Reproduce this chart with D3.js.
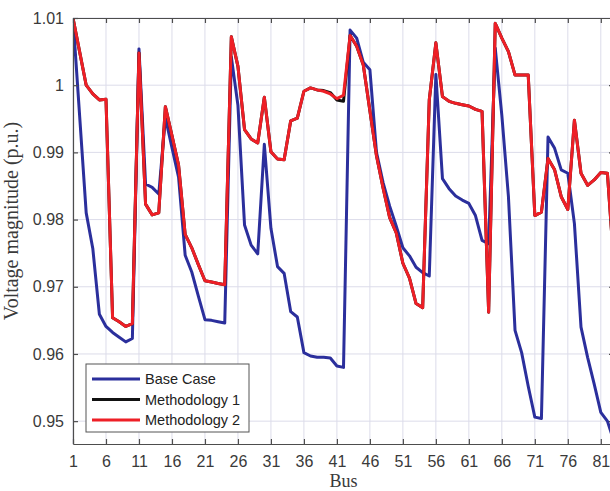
<!DOCTYPE html>
<html>
<head>
<meta charset="utf-8">
<script src="https://cdn.jsdelivr.net/npm/d3@7"></script>
<style>
  body { margin: 0; background: #fff; }
  svg { display: block; }
</style>
</head>
<body>
<svg id="chart-area"></svg>
<script>
/*
*    bus voltage profile - base case vs methodologies
*/

// bus numbers 1..83 (last one sits just past the cropped edge)
var buses = d3.range(1, 84);

var baseCase = [
  1.0100, 0.9955, 0.9810, 0.9757, 0.9659, 0.9641, 0.9632, 0.9625, 0.9618, 0.9623,
  1.0054, 0.9853, 0.9848, 0.9838, 0.9952, 0.9907, 0.9863, 0.9747, 0.9722, 0.9686,
  0.9651, 0.9650, 0.9648, 0.9646, 1.0042, 0.9970, 0.9792, 0.9762, 0.9749, 0.9912,
  0.9787, 0.9730, 0.9720, 0.9663, 0.9655, 0.9602, 0.9597, 0.9595, 0.9595, 0.9594,
  0.9582, 0.9580, 1.0082, 1.0070, 1.0034, 1.0023, 0.9900, 0.9855, 0.9820, 0.9790,
  0.9758, 0.9746, 0.9729, 0.9721, 0.9716, 1.0016, 0.9861, 0.9846, 0.9835, 0.9829,
  0.9824, 0.9806, 0.9769, 0.9764, 1.0055, 0.9955, 0.9834, 0.9635, 0.9602, 0.9552,
  0.9506, 0.9504, 0.9923, 0.9906, 0.9874, 0.9869, 0.9794, 0.9640, 0.9595, 0.9555,
  0.9513, 0.9500, 0.9470
];

var method2 = [
  1.0100, 1.0050, 1.0000, 0.9987, 0.9978, 0.9979, 0.9654, 0.9648, 0.9641, 0.9645,
  1.0048, 0.9823, 0.9807, 0.9810, 0.9968, 0.9925, 0.9881, 0.9778, 0.9758, 0.9733,
  0.9709, 0.9707, 0.9705, 0.9703, 1.0072, 1.0028, 0.9934, 0.9920, 0.9914, 0.9982,
  0.9901, 0.9890, 0.9889, 0.9947, 0.9951, 0.9991, 0.9996, 0.9993, 0.9991, 0.9987,
  0.9980, 0.9985, 1.0074, 1.0058, 1.0030, 0.9962, 0.9895, 0.9847, 0.9803, 0.9780,
  0.9735, 0.9713, 0.9675, 0.9669, 0.9978, 1.0063, 0.9983, 0.9976, 0.9973, 0.9971,
  0.9969, 0.9964, 0.9961, 0.9662, 1.0092, 1.0070, 1.0050, 1.0015, 1.0015, 1.0015,
  0.9806, 0.9811, 0.9891, 0.9874, 0.9834, 0.9815, 0.9948, 0.9869, 0.9851, 0.9859,
  0.9870, 0.9869, 0.9730
];

// methodology 1 follows methodology 2 except around buses 39-42
var method1 = method2.slice();
method1[38] = 0.9992;
method1[39] = 0.9989;
method1[40] = 0.9978;
method1[41] = 0.9976;

var seriesNames = ["Base Case", "Methodology 1", "Methodology 2"];
var seriesColors = ["#2b2f9c", "#111111", "#ee1f26"];

var xTicks = d3.range(1, 82, 5);
var yTicks = [1.01, 1.00, 0.99, 0.98, 0.97, 0.96, 0.95];
var yTickLabels = ["1.01", "1", "0.99", "0.98", "0.97", "0.96", "0.95"];

var chart = {
  margin: { left: 73, top: 18 },
  width: 541,
  height: 426
};

var svg = d3.select("#chart-area")
    .attr("width", 610)
    .attr("height", 491);

var g = svg.append("g")
    .attr("transform", "translate(" + chart.margin.left + "," + chart.margin.top + ")");

var x = d3.scaleLinear().domain([1, 83]).range([0, chart.width]);
var y = d3.scaleLinear().domain([0.9466, 1.01]).range([chart.height, 0]);

// grid
var grid = g.append("g").attr("class", "grid");
grid.selectAll("line.gx").data(xTicks).enter().append("line")
    .attr("class", "gx")
    .attr("x1", function(d){ return x(d); })
    .attr("x2", function(d){ return x(d); })
    .attr("y1", 0).attr("y2", chart.height)
    .attr("stroke", "#dcdcea").attr("stroke-width", 1);
grid.selectAll("line.gy").data(yTicks).enter().append("line")
    .attr("class", "gy")
    .attr("x1", 0).attr("x2", chart.width)
    .attr("y1", function(d){ return y(d); })
    .attr("y2", function(d){ return y(d); })
    .attr("stroke", "#dcdcea").attr("stroke-width", 1);

// lines
svg.append("defs").append("clipPath").attr("id", "plot-clip")
  .append("rect").attr("width", chart.width).attr("height", chart.height);

var line = d3.line()
    .x(function(d, i){ return x(buses[i]); })
    .y(function(d){ return y(d); });

var allSeries = [baseCase, method1, method2];
g.append("g").attr("clip-path", "url(#plot-clip)")
  .selectAll("path").data(allSeries).enter().append("path")
    .attr("d", line)
    .attr("fill", "none")
    .attr("stroke", function(d, i){ return seriesColors[i]; })
    .attr("stroke-width", 3)
    .attr("stroke-linejoin", "round");

// axes
var axisColor = "#4d4d4d";
var xAxisCall = d3.axisBottom(x).tickValues(xTicks).tickSizeInner(-5).tickSizeOuter(0).tickPadding(12);
g.append("g")
    .attr("transform", "translate(0," + chart.height + ")")
    .call(xAxisCall);

g.append("g")
    .call(d3.axisTop(x).tickValues(xTicks).tickSizeInner(-5).tickSizeOuter(0).tickFormat(""));

var yAxisCall = d3.axisLeft(y).tickValues(yTicks).tickSizeInner(-5).tickSizeOuter(0).tickPadding(9)
    .tickFormat(function(d, i){ return yTickLabels[i]; });
g.append("g").call(yAxisCall);

g.append("g")
    .attr("transform", "translate(" + chart.width + ",0)")
    .call(d3.axisRight(y).tickValues(yTicks).tickSizeInner(-5).tickSizeOuter(0).tickFormat(""));

g.selectAll(".domain, .tick line").attr("stroke", axisColor).attr("stroke-width", 1.2);
g.selectAll(".tick text")
    .attr("fill", "#3a3a3a")
    .attr("font-family", "'Liberation Sans', Arial, sans-serif")
    .attr("font-size", "16px");

// labels
g.append("text")
    .attr("x", chart.width / 2)
    .attr("y", chart.height + 43)
    .attr("text-anchor", "middle")
    .attr("font-family", "'Liberation Serif', 'Times New Roman', serif")
    .attr("font-size", "18px")
    .attr("fill", "#3a3a3a")
    .text("Bus");

g.append("text")
    .attr("transform", "rotate(-90)")
    .attr("x", -203)
    .attr("y", -55)
    .attr("text-anchor", "middle")
    .attr("font-family", "'Liberation Serif', 'Times New Roman', serif")
    .attr("font-size", "20px")
    .attr("fill", "#3a3a3a")
    .text("Voltage magnitude (p.u.)");

// legend
var legend = g.append("g").attr("transform", "translate(13,346)");
legend.append("rect")
    .attr("width", 163).attr("height", 68)
    .attr("fill", "#fff")
    .attr("stroke", "#555").attr("stroke-width", 1);
var items = legend.selectAll("g.item").data(seriesNames).enter().append("g")
    .attr("class", "item")
    .attr("transform", function(d, i){ return "translate(0," + (15 + i * 20.5) + ")"; });
items.append("line")
    .attr("x1", 6).attr("x2", 54)
    .attr("stroke", function(d, i){ return seriesColors[i]; })
    .attr("stroke-width", 3);
items.append("text")
    .attr("x", 59).attr("dy", "0.35em")
    .attr("font-family", "'Liberation Sans', Arial, sans-serif")
    .attr("font-size", "14.5px")
    .attr("fill", "#222")
    .text(function(d){ return d; });
</script>
</body>
</html>
